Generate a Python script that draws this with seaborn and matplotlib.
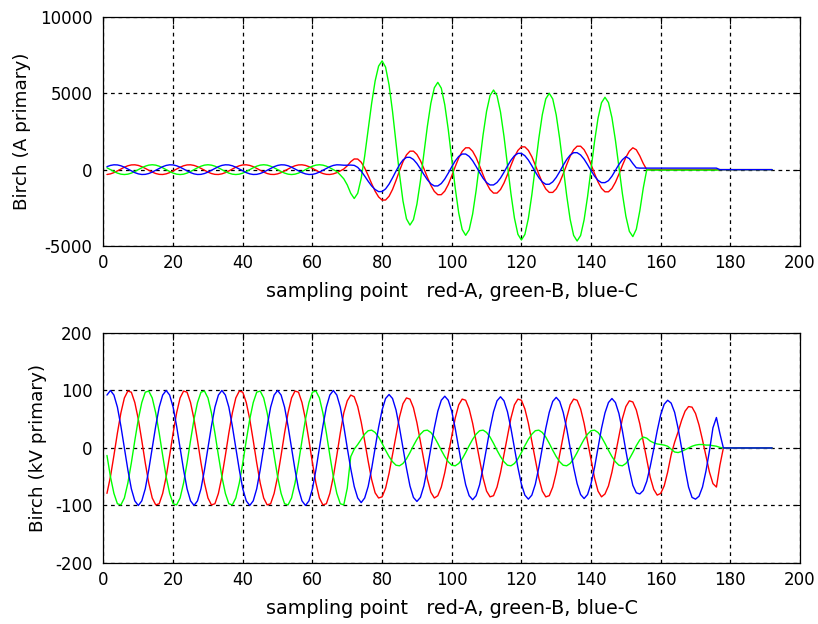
import matplotlib
matplotlib.use("Agg")
import matplotlib.pyplot as plt
import seaborn as sns
import pandas as pd

# ---------------- data ----------------
sample_points = list(range(1, 193))

# Currents, A primary
pre_ia = [-317, -277, -195, -83, 42, 160, 254, 309, 317, 277, 195, 83, -42, -160, -254, -309]
pre_ib = [123, 0, -123, -226, -296, -320, -296, -226, -123, 0, 123, 226, 296, 320, 296, 226]
pre_ic = [195, 277, 317, 309, 254, 160, 42, -83, -195, -277, -317, -309, -254, -160, -42, 83]

current_a = pre_ia * 4 + [
    -317, -277, -195, -83, 42, 250, 520, 700,
    694, 488, 112, -383, -917, -1412, -1788, -1994,
    -1989, -1745, -1296, -708, -72, 516, 965, 1209,
    1212, 994, 594, 69, -499, -1024, -1424, -1642,
    -1640, -1406, -975, -410, 200, 765, 1196, 1430,
    1431, 1204, 789, 243, -347, -893, -1308, -1535,
    -1535, -1303, -879, -323, 279, 835, 1259, 1491,
    1491, 1263, 845, 296, -296, -845, -1263, -1491,
    -1491, -1259, -835, -279, 323, 879, 1303, 1535,
    1535, 1307, 888, 339, -255, -804, -1223, -1451,
    -1452, -1232, -827, -297, 277, 807, 1212, 1432,
    1300, 900, 400, 0,
] + [0] * 36

current_b = pre_ib * 4 + [
    123, 0, -123,
    -350, -600, -1000, -1550, -1890,
    -1547, -569, 891, 2618, 4345, 5805, 6783, 7125,
    6717, 5550, 3808, 1748, -312, -2054, -3221, -3630,
    -3275, -2261, -746, 1044, 2834, 4349, 5363, 5717,
    5337, 4250, 2627, 708, -1211, -2834, -3921, -4302,
    -3940, -2908, -1366, 457, 2280, 3822, 4854, 5215,
    4842, 3776, 2184, 303, -1578, -3170, -4236, -4609,
    -4244, -3201, -1644, 196, 2036, 3593, 4636, 5000,
    4632, 3583, 2016, 163, -1690, -3257, -4306, -4674,
    -4316, -3295, -1770, 33, 1836, 3361, 4382, 4740,
    4394, 3404, 1925, 177, -1571, -3050, -4040, -4387,
    -3900, -2700, -1200, 0,
] + [-30] * 20 + [0] * 16

current_c = pre_ic * 4 + [
    195, 277, 317, 309, 290, 290, 300, 280,
    150, -100, -420, -760, -1070, -1300, -1440,
    -1434, -1263, -949, -537, -93, 319, 633, 804,
    808, 665, 402, 57, -317, -662, -925, -1068,
    -1067, -907, -614, -230, 186, 570, 863, 1023,
    1023, 868, 584, 211, -191, -564, -848, -1003,
    -1002, -844, -554, -174, 238, 618, 908, 1066,
    1067, 912, 628, 255, -147, -520, -804, -959,
    -958, -800, -510, -130, 282, 662, 952, 1110,
    1111, 961, 686, 325, -65, -426, -701, -851,
    -850, -720, -430, -50, 340, 650, 850, 720, 400, 120,
] + [100] * 23 + [0] * 16

# Voltages, kV primary
pre_va = [-79, -50, -13, 26, 61, 87, 99, 97, 79, 50, 13, -26, -61, -87, -99, -97]
pre_vb = [-13, -50, -79, -97, -99, -87, -61, -26, 13, 50, 79, 97, 99, 87, 61, 26]
pre_vc = [92, 100, 92, 71, 38, 0, -38, -71, -92, -100, -92, -71, -38, 0, 38, 71]

voltage_a = pre_va * 4 + [
    -79, -50, -13, 26, 61,
    82, 92, 89, 72, 45, 12, -23, -55, -78, -87,
    -85, -70, -44, -11, 23, 54, 77, 87, 85, 70, 44, 11, -23, -54, -77, -87,
    -83, -68, -43, -11, 22, 52, 75, 85, 83, 68, 43, 11, -22, -52, -75, -85,
    -83, -68, -43, -11, 22, 52, 75, 85, 83, 68, 43, 11, -22, -52, -75, -85,
    -83, -68, -43, -11, 22, 52, 75, 85, 83, 68, 43, 11, -22, -52, -75, -85,
    -80, -66, -42, -11, 21, 51, 72, 82, 80, 66, 42, 11, -21, -51, -72, -82,
    -79, -66, -42, -12, 10, 28, 48, 64, 72, 71, 60, 40, 14, -14, -42, -62, -68, -30,
] + [0] * 15

voltage_b = pre_vb * 4 + [
    -13, -50, -79, -97, -99,
    -70, -15, -2, 6, 15, 24, 30, 31, 27, 19,
    8, -4, -15, -24, -30, -31, -27, -19, -8, 4, 15, 24, 30, 31, 27, 19,
    8, -4, -15, -24, -30, -31, -27, -19, -8, 4, 15, 24, 30, 31, 27, 19,
    8, -4, -15, -24, -30, -31, -27, -19, -8, 4, 15, 24, 30, 31, 27, 19,
    8, -4, -15, -24, -30, -31, -27, -19, -8, 4, 15, 24, 30, 31, 27, 19,
    8, -4, -15, -24, -30, -31, -27, -19, -8, 4, 14, 19, 17, 12, 9, 7,
    6, 5, 3, -2, -7, -8, -6, -3, 0, 3, 5, 6, 6, 5, 5, 4, 3, 1,
] + [0] * 15

voltage_c = pre_vc * 4 + [
    92, 100, 92, 71, 38,
    0, -36, -67, -87, -95, -87, -67, -36, 0, 36,
    66, 86, 93, 86, 66, 35, 0, -35, -66, -86, -93, -86, -66, -35, 0, 35,
    64, 83, 90, 83, 64, 34, 0, -34, -64, -83, -90, -83, -64, -34, 0, 34,
    63, 82, 89, 82, 63, 34, 0, -34, -63, -82, -89, -82, -63, -34, 0, 34,
    62, 81, 88, 81, 62, 34, 0, -34, -62, -81, -88, -81, -62, -34, 0, 34,
    61, 79, 86, 79, 60, 30, -5, -38, -65, -78, -80, -74, -58, -32, -2, 30,
    58, 76, 83, 78, 62, 34, 0, -36, -68, -86, -89, -84, -68, -40, -5, 35, 53, 25,
] + [0] * 15

x_ticks = [0, 20, 40, 60, 80, 100, 120, 140, 160, 180, 200]
current_ticks = [-5000, 0, 5000, 10000]
voltage_ticks = [-200, -100, 0, 100, 200]
xlabel_text = "sampling point   red-A, green-B, blue-C"
current_ylabel = "Birch (A primary)"
voltage_ylabel = "Birch (kV primary)"

# ---------------- plotting ----------------
sns.set_style("white")
plt.rcParams["font.family"] = ["DejaVu Sans"]
plt.rcParams["axes.unicode_minus"] = False

fig = plt.figure(figsize=(8.18, 6.24), dpi=100)
ax1 = fig.add_axes([0.1265, 0.6058, 0.8515, 0.367])
ax2 = fig.add_axes([0.1265, 0.0978, 0.8515, 0.3686])

df_i = pd.DataFrame({"n": sample_points, "A": current_a, "B": current_b, "C": current_c})
df_v = pd.DataFrame({"n": sample_points, "A": voltage_a, "B": voltage_b, "C": voltage_c})

colors = {"A": "#ff0000", "B": "#00ff00", "C": "#0000ff"}

for ax, df, yt, ylab in [(ax1, df_i, current_ticks, current_ylabel),
                         (ax2, df_v, voltage_ticks, voltage_ylabel)]:
    for ph in ["A", "B", "C"]:
        sns.lineplot(data=df, x="n", y=ph, color=colors[ph], linewidth=1.0,
                     ax=ax, legend=False, sort=False, estimator=None, zorder=3)
    ax.set_xlim(0, 200)
    ax.set_ylim(yt[0], yt[-1])
    ax.set_xticks(x_ticks)
    ax.set_yticks(yt)
    ax.grid(True, color="black", linestyle=(0, (3, 3)), linewidth=0.9)
    ax.set_axisbelow(True)
    ax.tick_params(direction="in", length=5, width=0.8, top=True, right=True,
                   labelsize=12, colors="black")
    ax.tick_params(axis="y", pad=8)
    ax.tick_params(axis="x", pad=6)
    for s in ax.spines.values():
        s.set_color("black")
        s.set_linewidth(0.9)
        s.set_visible(True)
    ax.set_xlabel(xlabel_text, fontsize=13.8, labelpad=7, color="black")
    ax.set_ylabel(ylab, fontsize=13.2, labelpad=6, color="black")

fig.savefig("out.png", dpi=100)
